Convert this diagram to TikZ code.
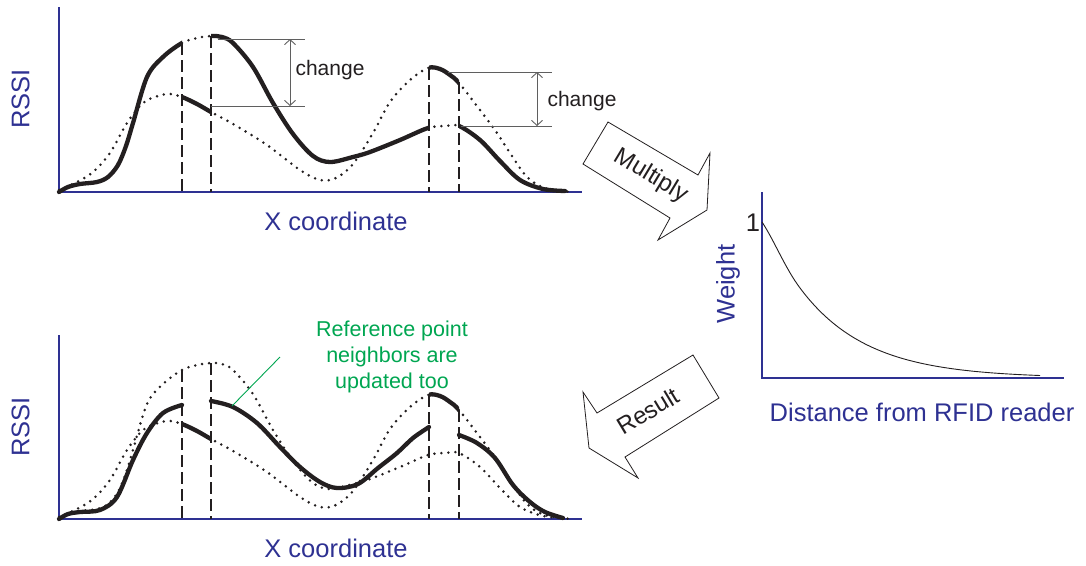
\documentclass[tikz,border=0pt]{standalone}
\usepackage{fontspec}
\setmainfont{Liberation Sans}
\usetikzlibrary{arrows.meta}
\definecolor{axisblue}{RGB}{46,49,146}
\definecolor{notegreen}{RGB}{0,166,81}
\definecolor{chggray}{RGB}{95,95,95}
\definecolor{ink}{RGB}{35,31,32}
\begin{document}
\begin{tikzpicture}[x=1pt,y=-1pt,
  axis/.style={draw=axisblue, line width=1.1pt},
  lbl/.style={text=axisblue, font=\fontsize{25.5}{30}\selectfont, inner sep=0pt},
  thickcurve/.style={draw=ink, line width=4.3pt, line cap=round, line join=round},
  dotcurve/.style={draw=ink, line width=2.8pt, line cap=round, dash pattern=on 0pt off 7pt},
  refline/.style={draw=ink, line width=2.7pt, dash pattern=on 12pt off 5pt},
  chg/.style={draw=chggray, line width=0.9pt},
  chgarrow/.style={draw=chggray, line width=0.9pt, {Straight Barb[length=5pt,width=11pt]}-{Straight Barb[length=5pt,width=11pt]}},
  chgtext/.style={text=ink, font=\fontsize{21}{25}\selectfont, inner sep=0pt},
  blockarrow/.style={draw=ink, line width=0.8pt, fill=white, line join=miter},
  arrowtext/.style={text=ink, font=\fontsize{24}{28}\selectfont, inner sep=0pt},
  note/.style={text=notegreen, font=\fontsize{21.5}{26}\selectfont, align=center, inner sep=0pt}]
\useasboundingbox (0,0) rectangle (1086,565);

\def\curveA{plot[smooth,tension=0.55] coordinates {(59,190) (77,182) (93,172) (110,153) (127,123) (143,103) (158,96) (170,94) (182,97) (197,104) (211,112) (233,124) (267,145) (300,170) (320,180) (336,178) (353,164) (373,133) (390,102) (410,80) (428,68) (440,69) (450,75) (459,83) (480,110) (497,133) (510,153) (527,177) (545,188) (572,192)}}
\def\curveB{plot[smooth,tension=0.55] coordinates {(59,192) (68,187) (80,184) (97,182) (108,177) (118,165) (126,146) (133,123) (147,77) (163,57) (182,43) (197,38) (211,36) (222,37) (233,43) (253,67) (273,103) (293,134) (313,156) (330,162) (353,157) (370,152) (400,140) (428,128) (445,126) (459,126) (480,140) (500,161) (520,180) (543,189) (565,191)}}

% ---------------- top plot ----------------
\draw[axis] (59,7) -- (59,192) -- (582,192);
\node[lbl, rotate=90] (rssiTop) at (20.5,99) {RSSI};
\node[lbl] (xTop) at (336,221) {X coordinate};

\begin{scope}
  \clip (182,0) rectangle (211,200) (429,0) rectangle (459,200);
  \draw[thickcurve] \curveA;
  \draw[dotcurve] \curveB;
\end{scope}
\begin{scope}
  \clip (0,0) rectangle (182,200) (211,0) rectangle (429,200) (459,0) rectangle (600,200);
  \draw[dotcurve] \curveA;
  \draw[thickcurve] \curveB;
\end{scope}

\draw[refline] (182,43) -- (182,192);
\draw[refline] (211,36) -- (211,192);
\draw[refline] (429,68) -- (429,192);
\draw[refline] (459,82) -- (459,192);

% change annotations
\draw[chg] (218,39) -- (305,39);
\draw[chg] (211,106) -- (305,106);
\draw[chgarrow] (290,39) -- (290,106);
\node[chgtext] (chg1) at (330,70) {change};
\draw[chg] (448,72) -- (552,72);
\draw[chg] (461,126) -- (552,126);
\draw[chgarrow] (537,72) -- (537,126);
\node[chgtext] (chg2) at (582,101) {change};

% ---------------- bottom plot ----------------
\draw[axis] (59,335) -- (59,519) -- (582,519);
\node[lbl, rotate=90] (rssiBot) at (20.5,427) {RSSI};
\node[lbl] (xBot) at (336,548) {X coordinate};

\begin{scope}[yshift=-327pt]
  \draw[dotcurve] \curveA;
  \draw[dotcurve] \curveB;
  \begin{scope}
    \clip (182,0) rectangle (211,200) (429,0) rectangle (459,200);
    \draw[thickcurve] \curveA;
  \end{scope}
\end{scope}

\draw[thickcurve] plot[smooth,tension=0.55] coordinates {(59,519) (68,514) (80,512) (100,510) (117,497) (133,460) (147,433) (163,413) (182,405)};
\draw[thickcurve] plot[smooth,tension=0.55] coordinates {(211,401) (233,407) (257,423) (280,447) (300,467) (320,482) (337,488) (358,484) (378,468) (397,453) (413,438) (429,427)};
\draw[thickcurve] plot[smooth,tension=0.55] coordinates {(459,435) (477,443) (495,458) (513,485) (530,502) (545,512) (563,518)};

\draw[refline] (182,370) -- (182,519);
\draw[refline] (211,363) -- (211,519);
\draw[refline] (429,395) -- (429,519);
\draw[refline] (459,410) -- (459,519);

% green note
\node[note] (noteTxt) at (392,357) {Reference point\\neighbors are\\updated too};
\coordinate (noteStart) at (280,357);
\coordinate (noteEnd) at (232,406);
\draw[notegreen, line width=0.9pt] (noteStart) -- (noteEnd);

% ---------------- block arrows ----------------
\draw[blockarrow] (608,122) -- (698,175) -- (710,153) -- (707,210) -- (658,240) -- (670,218) -- (583,164) -- cycle;
\node[arrowtext, rotate=-31] (mult) at (651,176) {Multiply};

\draw[blockarrow] (693,355) -- (719,398) -- (625,457) -- (638,478) -- (589,448) -- (583,392) -- (597,413) -- cycle;
\node[arrowtext, rotate=31] (res) at (648,411) {Result};

% ---------------- weight plot ----------------
\draw[axis] (762,192) -- (762,378) -- (1064,378);
\node[lbl, rotate=90] (wt) at (728,284) {Weight};
\node[lbl] (dist) at (922,412) {Distance from RFID reader};
\node[text=ink, font=\fontsize{25.5}{30}\selectfont, inner sep=0pt] (one) at (753,223) {1};
\draw[ink, line width=0.9pt] (762,222) .. controls (774,240) and (785,268) .. (800,288)
  -- plot[domain=800:1040, samples=60, smooth] (\x, {378-90*exp(-(\x-800)/67)});
\end{tikzpicture}
\end{document}
